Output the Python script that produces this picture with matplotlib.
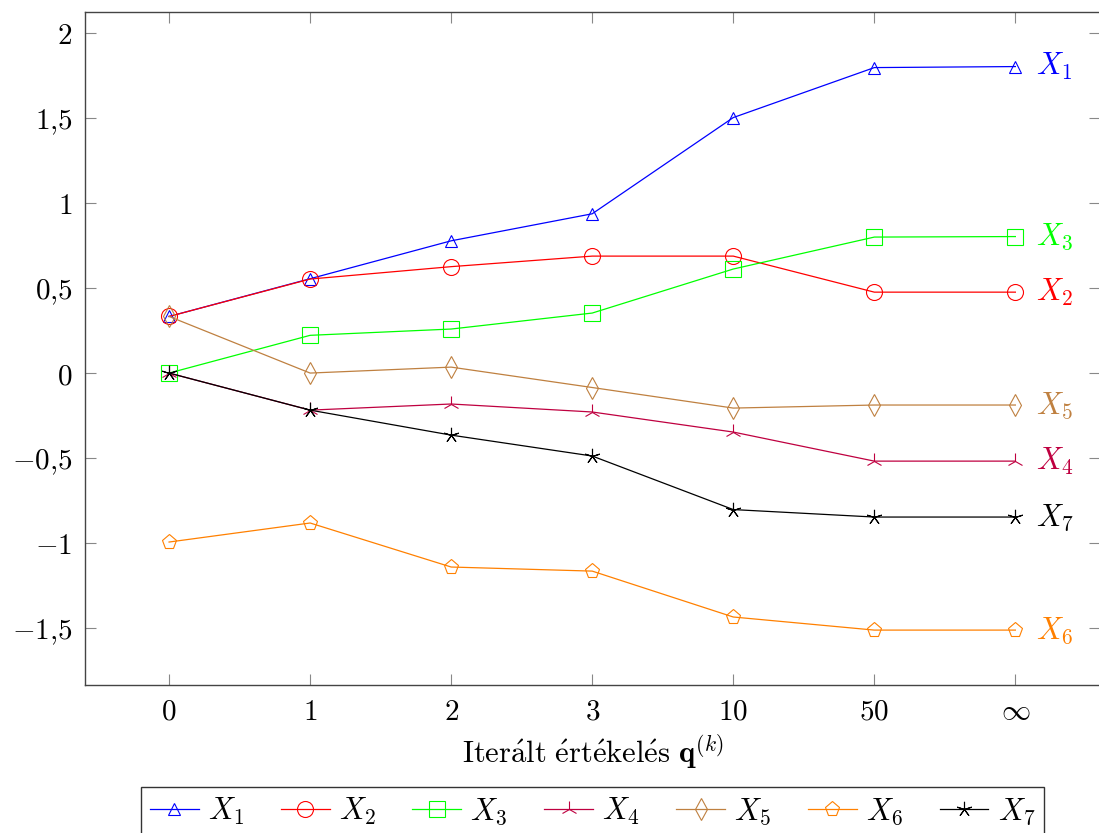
import matplotlib
matplotlib.use("Agg")
import matplotlib.pyplot as plt

plt.rcParams['mathtext.fontset'] = 'cm'
plt.rcParams['font.family'] = 'serif'
plt.rcParams['font.serif'] = ['DejaVu Serif']

# iteration steps (categorical x axis)
steps = ['$0$', '$1$', '$2$', '$3$', '$10$', '$50$', r'$\infty$']
x = list(range(len(steps)))

x1 = [0.333, 0.555, 0.778, 0.937, 1.503, 1.797, 1.803]
x2 = [0.333, 0.553, 0.626, 0.688, 0.688, 0.476, 0.476]
x3 = [0.0, 0.222, 0.259, 0.353, 0.612, 0.800, 0.803]
x4 = [0.0, -0.218, -0.182, -0.229, -0.347, -0.518, -0.518]
x5 = [0.333, 0.0, 0.035, -0.085, -0.206, -0.188, -0.188]
x6 = [-0.994, -0.882, -1.141, -1.165, -1.435, -1.512, -1.512]
x7 = [0.0, -0.218, -0.365, -0.488, -0.803, -0.847, -0.847]

yticks = [-1.5, -1, -0.5, 0, 0.5, 1, 1.5, 2]
ytick_labels = ['$-1{,}5$', '$-1$', '$-0{,}5$', '$0$', '$0{,}5$', '$1$', '$1{,}5$', '$2$']

series = [
    ('$X_1$', x1, '#0000ff', '^', 9),
    ('$X_2$', x2, '#ff0000', 'o', 11.5),
    ('$X_3$', x3, '#00ff00', 's', 11),
    ('$X_4$', x4, '#bf0040', '2', 12),
    ('$X_5$', x5, '#bf8040', 'd', 11),
    ('$X_6$', x6, '#ff8000', 'p', 11),
    ('$X_7$', x7, '#000000', (5, 2, 0), 11),
]

fig = plt.figure(figsize=(10.99, 8.33), dpi=100)
ax = fig.add_axes([85 / 1099, 1 - 685 / 833, 1015 / 1099, 673 / 833])

for name, vals, col, mk, ms in series:
    ax.plot(x, vals, color=col, lw=0.9, marker=mk, ms=ms, mfc='none',
            mec=col, mew=0.8, label=name)
    ax.annotate(name, (x[-1], vals[-1]), xytext=(15, 0), textcoords='offset points',
                color=col, fontsize=22, va='center', ha='left')

ax.set_xlim(-0.596, 6.6)
ax.set_ylim(-1.835, 2.124)
ax.set_xticks(x)
ax.set_xticklabels(steps)
ax.set_yticks(yticks)
ax.set_yticklabels(ytick_labels)
ax.tick_params(direction='in', length=8, width=0.8, color='#888888',
               labelsize=21, top=True, right=True, pad=9)
for s in ax.spines.values():
    s.set_color('#444444')
    s.set_linewidth(1.0)

ax.set_xlabel(r'$\mathrm{Iter\acute{a}lt\ \acute{e}rt\acute{e}kel\acute{e}s}\ \mathbf{q}^{(k)}$',
              fontsize=22, labelpad=5)

leg = ax.legend(loc='upper center', bbox_to_anchor=(0.5, -0.1516), ncol=7,
                fontsize=22, frameon=True, fancybox=False, edgecolor='black',
                handlelength=1.6, columnspacing=1.2, handletextpad=0.3,
                borderpad=0.3, borderaxespad=0)
leg.get_frame().set_linewidth(1.0)

fig.savefig('out.png', dpi=100)
